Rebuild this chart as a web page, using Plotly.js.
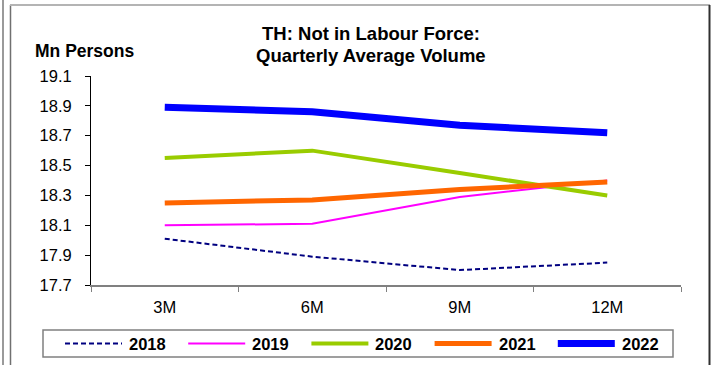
<!DOCTYPE html>
<html>
<head>
<meta charset="utf-8">
<script src="https://cdn.plot.ly/plotly-3.0.1.min.js"></script>
<style>
html,body{margin:0;padding:0;background:#fff;}
#chart{width:712px;height:365px;}
</style>
</head>
<body>
<div id="chart"></div>
<script>
// ---- data ----
const categories = ["3M", "6M", "9M", "12M"];
const years = ["2018", "2019", "2020", "2021", "2022"];
const v2018 = [18.01, 17.89, 17.80, 17.85];
const v2019 = [18.10, 18.11, 18.29, 18.40];
const v2020 = [18.55, 18.60, 18.45, 18.30];
const v2021 = [18.25, 18.27, 18.34, 18.39];
const v2022 = [18.89, 18.86, 18.77, 18.72];
const yTicks = [17.7, 17.9, 18.1, 18.3, 18.5, 18.7, 18.9, 19.1];
const titleLines = ["TH: Not in Labour Force:", "Quarterly Average Volume"];

const seriesValues = [v2018, v2019, v2020, v2021, v2022];
const colors = ["#000080", "#FF00FF", "#99CC00", "#FF6600", "#0000FF"];
const widths = [2, 2, 4, 5, 7];
const dashes = ["5px,3px", "solid", "solid", "solid", "solid"];

// ---- layout geometry (pixels) ----
const W = 712, H = 365;
const L = 91, R = 681, T = 76, B = 285;
const px = x => (x - L) / (R - L);
const py = y => (B - y) / (B - T);
const FONT = "Liberation Sans, Arial, sans-serif";

const traces = years.map((yr, i) => ({
  type: "scatter", mode: "lines", name: yr,
  x: categories, y: seriesValues[i],
  line: {color: colors[i], width: widths[i], dash: dashes[i]},
  showlegend: false, hoverinfo: "skip"
}));

const shapes = [];
const annotations = [];

// outer frame
shapes.push({type: "line", xref: "paper", yref: "paper", x0: px(3), x1: px(3), y0: py(0), y1: py(H), line: {color: "#9a9a9a", width: 2}});
shapes.push({type: "line", xref: "paper", yref: "paper", x0: px(10.5), x1: px(10.5), y0: py(5), y1: py(H), line: {color: "#707070", width: 1.5}});
shapes.push({type: "line", xref: "paper", yref: "paper", x0: px(10), x1: px(710), y0: py(5), y1: py(5), line: {color: "#b4b4b4", width: 2}});
shapes.push({type: "line", xref: "paper", yref: "paper", x0: px(709.5), x1: px(709.5), y0: py(5), y1: py(H), line: {color: "#303030", width: 2}});

// legend box
shapes.push({type: "rect", xref: "paper", yref: "paper", x0: px(43), x1: px(673), y0: py(330), y1: py(357), line: {color: "#808080", width: 1.5}, fillcolor: "rgba(0,0,0,0)"});
const legStart = 65, legPitch = 123.2, legLen = 57, legY = 343.5;
years.forEach((yr, i) => {
  const x0 = legStart + i * legPitch;
  shapes.push({type: "line", xref: "paper", yref: "paper", x0: px(x0), x1: px(x0 + legLen), y0: py(legY), y1: py(legY),
    line: {color: colors[i], width: widths[i], dash: dashes[i]}});
  annotations.push({xref: "paper", yref: "paper", x: px(x0 + legLen + 5), y: py(legY), xanchor: "left", yanchor: "middle",
    text: "<b>" + yr + "</b>", showarrow: false, font: {family: FONT, size: 16.5, color: "#000"}});
});

// y-axis unit label
annotations.push({xref: "paper", yref: "paper", x: px(84), y: py(51), xanchor: "center", yanchor: "middle",
  text: "<b>Mn Persons</b>", showarrow: false, font: {family: FONT, size: 17.5, color: "#000"}});

// second title line (tighter line spacing than Plotly's <br>)
annotations.push({xref: "paper", yref: "paper", x: px(371), y: py(55), xanchor: "center", yanchor: "middle",
  text: "<b>" + titleLines[1] + "</b>", showarrow: false, font: {family: FONT, size: 18.5, color: "#000"}});

const layout = {
  width: W, height: H,
  margin: {l: L, r: W - R, t: T, b: H - B, pad: 0},
  paper_bgcolor: "#fff", plot_bgcolor: "#fff",
  font: {family: FONT, size: 16, color: "#000"},
  title: {
    text: "<b>" + titleLines[0] + "</b>",
    xref: "container", yref: "container", x: 371 / W, xanchor: "center",
    y: 1 - 34 / H, yanchor: "middle",
    font: {family: FONT, size: 18.5, color: "#000"}
  },
  xaxis: {
    type: "category", range: [-0.5, 3.5], tickson: "boundaries",
    showgrid: false, zeroline: false, showline: true, linecolor: "#808080", linewidth: 2,
    ticks: "outside", ticklen: 5, tickcolor: "#808080", tickwidth: 1,
    ticklabelstandoff: 6,
    tickfont: {size: 16.5}, fixedrange: true
  },
  yaxis: {
    range: [17.7, 19.1], tickvals: yTicks, ticktext: yTicks.map(v => v.toFixed(1)),
    showgrid: false, zeroline: false, showline: true, linecolor: "#000", linewidth: 1,
    ticks: "outside", ticklen: 5, tickcolor: "#000", tickwidth: 1,
    ticklabelstandoff: 10,
    tickfont: {size: 16.5}, fixedrange: true
  },
  shapes: shapes,
  annotations: annotations,
  showlegend: false
};

Plotly.newPlot("chart", traces, layout, {displayModeBar: false, staticPlot: true});
</script>
</body>
</html>
